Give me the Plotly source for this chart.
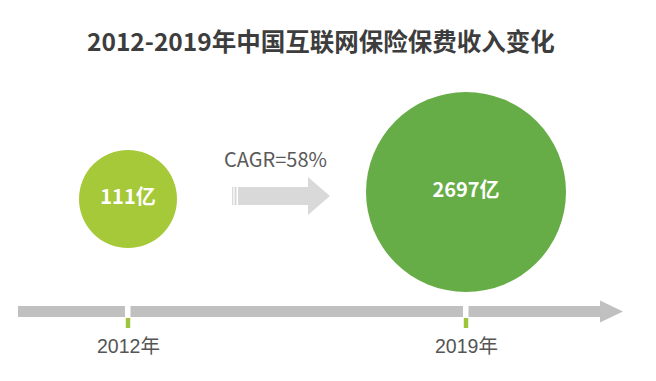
import plotly.graph_objects as go

# ---- data ----
years = [2012, 2019]
premiums = [111, 2697]  # 亿元
value_labels = ["111亿", "2697亿"]
year_labels = ["2012年", "2019年"]
cagr_text = "CAGR=58%"
title_text = "2012-2019年中国互联网保险保费收入变化"

W, H = 656, 381
# x axis in years: 2012 -> px 128, 2019 -> px 466
px_per_year = (466 - 128) / 7.0
x0 = 2012 - 128 / px_per_year
x1 = x0 + W / px_per_year

def px(xp):
    return xp / W

def py(yp):
    return 1 - yp / H

fig = go.Figure()

circle_colors = ["#a6c93a", "#67ad47"]
circle_sizes = [98, 200]
circle_y = [199, 192]

fig.add_trace(go.Scatter(
    x=years, y=circle_y, mode="markers+text",
    marker=dict(size=circle_sizes, color=circle_colors, line=dict(width=0), opacity=1),
    text=["<b>%s</b>" % t for t in value_labels],
    textposition="middle center",
    textfont=dict(family="Noto Sans CJK SC", size=20, color="white"),
    hoverinfo="skip", showlegend=False,
))

shapes = []
# timeline bar
shapes.append(dict(type="rect", xref="paper", yref="paper", x0=px(18), x1=px(601),
                   y0=py(317), y1=py(306), fillcolor="#c0c0c0", line=dict(width=0), layer="below"))
shapes.append(dict(type="path", xref="paper", yref="paper",
                   path="M %f,%f L %f,%f L %f,%f Z" % (px(600), py(300.5), px(623), py(311.5), px(600), py(322.5)),
                   fillcolor="#c0c0c0", line=dict(width=0), layer="below"))
# gaps + green ticks at years
for yr in years:
    shapes.append(dict(type="rect", xref="x", yref="paper", x0=yr - 3 / px_per_year, x1=yr + 2.5 / px_per_year,
                       y0=py(318), y1=py(305), fillcolor="white", line=dict(width=0), layer="below"))
    shapes.append(dict(type="rect", xref="x", yref="paper", x0=yr - 2.2 / px_per_year, x1=yr + 2.2 / px_per_year,
                       y0=py(328), y1=py(318), fillcolor="#9dc43a", line=dict(width=0), layer="below"))

# CAGR arrow
ac = "#d9d9d9"
shapes.append(dict(type="rect", xref="paper", yref="paper", x0=px(238), x1=px(309),
                   y0=py(205), y1=py(187), fillcolor=ac, line=dict(width=0), layer="below"))
shapes.append(dict(type="path", xref="paper", yref="paper",
                   path="M %f,%f L %f,%f L %f,%f Z" % (px(308), py(177), px(330), py(196), px(308), py(215)),
                   fillcolor=ac, line=dict(width=0), layer="below"))
for a, b in [(232, 233.3), (234.5, 236.5)]:
    shapes.append(dict(type="rect", xref="paper", yref="paper", x0=px(a), x1=px(b),
                       y0=py(205), y1=py(187), fillcolor=ac, line=dict(width=0), layer="below"))

annotations = [
    dict(text="<b>%s</b>" % title_text, xref="paper", yref="paper", x=px(321), y=py(40),
         showarrow=False, font=dict(family="Noto Sans CJK SC", size=24.5, color="#3d3d3d"),
         xanchor="center", yanchor="middle"),
    dict(text=cagr_text, xref="paper", yref="paper", x=px(275), y=py(158),
         showarrow=False, font=dict(family="Noto Sans CJK SC", size=20, color="#595959"),
         xanchor="center", yanchor="middle"),
]
for yr, lab in zip(years, year_labels):
    annotations.append(dict(text=lab, xref="x", yref="paper", x=yr, y=py(346),
                            showarrow=False, font=dict(family="Liberation Sans, Noto Sans CJK SC", size=19.5, color="#555555"),
                            xanchor="center", yanchor="middle"))

fig.update_layout(
    width=W, height=H,
    margin=dict(l=0, r=0, t=0, b=0),
    paper_bgcolor="white", plot_bgcolor="white",
    xaxis=dict(range=[x0, x1], visible=False, fixedrange=True),
    yaxis=dict(range=[H, 0], visible=False, fixedrange=True),
    shapes=shapes, annotations=annotations,
    showlegend=False,
)

fig.write_html("out.html", config=dict(displayModeBar=False),
               post_script="document.body.style.margin='0px';document.body.style.padding='0px';")
